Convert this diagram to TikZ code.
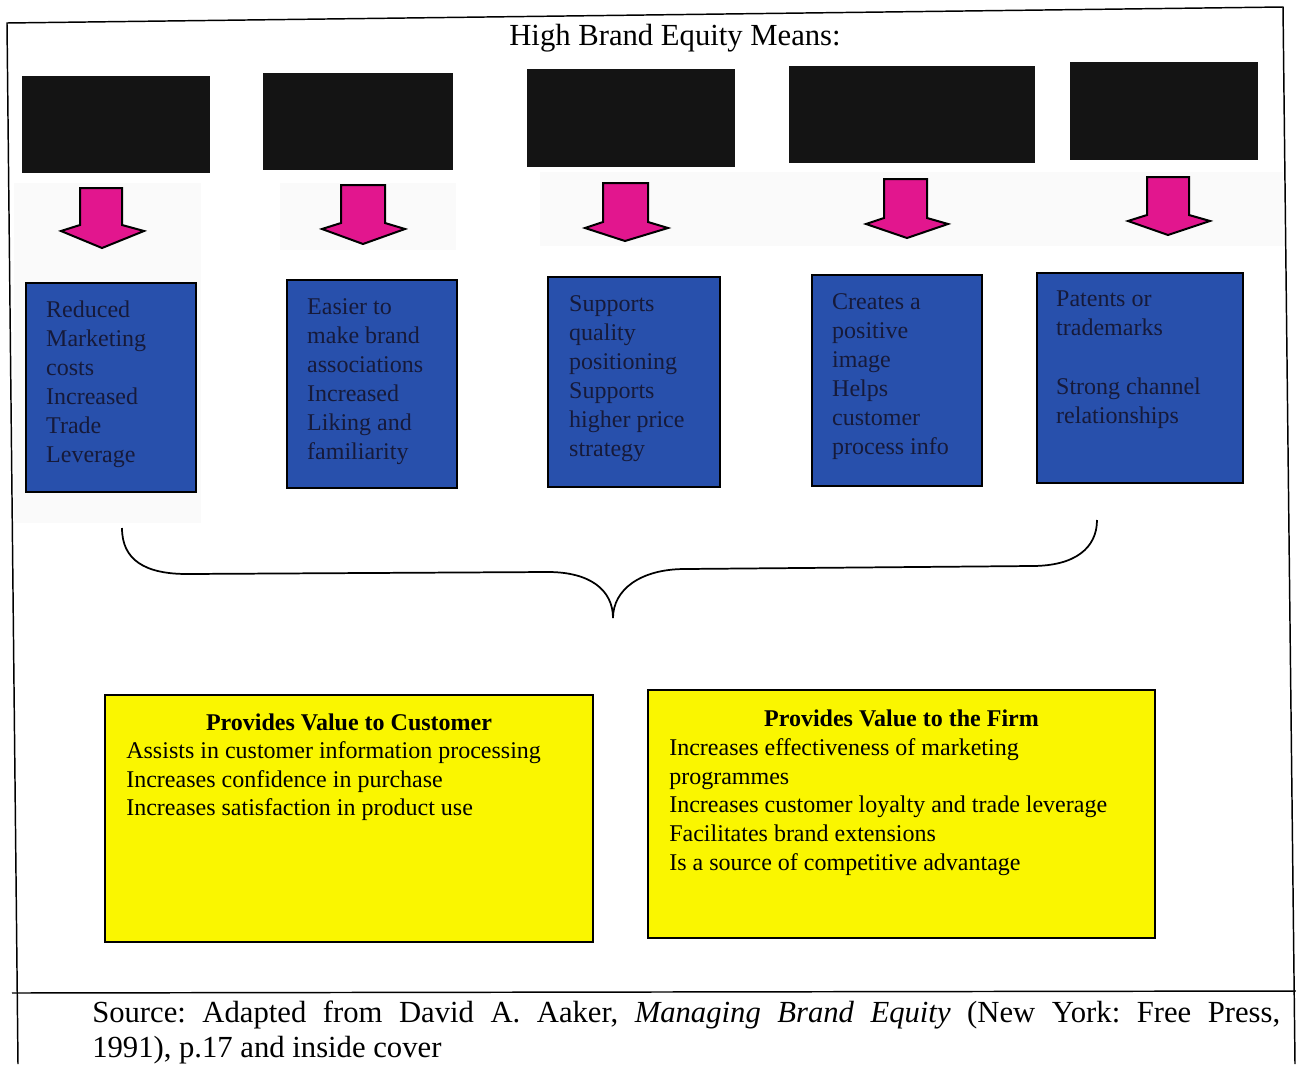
\documentclass[tikz,border=0pt]{standalone}
\usepackage{fontspec}
\setmainfont{Liberation Serif}
\usetikzlibrary{fit}
\definecolor{boxblue}{RGB}{40,80,172}
\definecolor{bluetextc}{RGB}{22,26,58}
\definecolor{arrowpink}{RGB}{226,22,142}
\definecolor{boxyellow}{RGB}{250,246,0}
\definecolor{redactc}{RGB}{20,20,20}
\definecolor{haze}{RGB}{250,250,250}
\frenchspacing
\begin{document}
\begin{tikzpicture}[x=0.75pt,y=-0.75pt,
  frameline/.style={draw=black, line width=1.1pt},
  redact/.style={fill=redactc, draw=none, inner sep=0pt},
  bluebox/.style={fill=boxblue, draw=black, line width=1.6pt, inner sep=0pt},
  bluetext/.style={anchor=north west, inner sep=0pt, align=left, text=bluetextc,
    font=\fontsize{18}{21.75}\selectfont},
  yelbox/.style={fill=boxyellow, draw=black, line width=1.4pt, inner sep=0pt},
  ytitle/.style={anchor=base, inner sep=0pt, font=\fontsize{18}{21.6}\selectfont\bfseries},
  ytext/.style={anchor=north west, inner sep=0pt, align=left,
    font=\fontsize{18}{21.6}\selectfont},
  blockarrow/.style={fill=arrowpink, draw=black, line width=1.5pt, line join=miter},
  brace/.style={draw=black, line width=1.3pt},
  srctext/.style={anchor=base west, inner sep=0pt, font=\fontsize{23}{27}\selectfont}
]
\useasboundingbox (0,0) rectangle (1296,1064);

% faint backgrounds behind the arrows
\fill[haze] (14,183) rectangle (201,523);
\fill[haze] (280,183) rectangle (456,250);
\fill[haze] (540,172) rectangle (1283,246);

% outer frame and source separator
\draw[frameline] (18,1064) -- (7,23) -- (1283,7) -- (1295,1064);
\draw[frameline] (12,993) -- (1296,991);

% heading
\node[anchor=base, inner sep=0pt, font=\fontsize{23}{27}\selectfont] (title) at (675,45) {High Brand Equity Means:};

% redacted top boxes
\node[redact, fit={(22,76) (210,173)}] (k1) {};
\node[redact, fit={(263,73) (453,170)}] (k2) {};
\node[redact, fit={(527,69) (735,167)}] (k3) {};
\node[redact, fit={(789,66) (1035,163)}] (k4) {};
\node[redact, fit={(1070,62) (1258,160)}] (k5) {};

% block arrows: shaft left/right, top, neck, wing left/right, wing y, tip x/y
\foreach \sl/\sr/\st/\nk/\wl/\wr/\wy/\tx/\ty in {
  80/122/188/225/61/144/231/102/248,
  341/385/185/223/322/405/229/363/244,
  603/648/183/222/585/668/228/625/241,
  884/927/179/218/866/948/224/907/238,
  1147/1189/177/215/1128/1210/221/1168/235}
  \draw[blockarrow] (\sl,\st) -- (\sr,\st) -- (\sr,\nk) -- (\wr,\wy) -- (\tx,\ty)
     -- (\wl,\wy) -- (\sl,\nk) -- cycle;

% blue boxes
\node[bluebox, fit={(26,283) (196,492)}] (b1) {};
\node[bluebox, fit={(287,280) (457,488)}] (b2) {};
\node[bluebox, fit={(548,277) (720,487)}] (b3) {};
\node[bluebox, fit={(812,275) (982,486)}] (b4) {};
\node[bluebox, fit={(1037,273) (1243,483)}] (b5) {};

\node[bluetext] (t1) at ([xshift=15.75pt,yshift=-14.25pt]b1.north west)
  {Reduced\\Marketing\\costs\\Increased\\Trade\\Leverage};
\node[bluetext] (t2) at ([xshift=15.75pt,yshift=-14.25pt]b2.north west)
  {Easier to\\make brand\\associations\\Increased\\Liking and\\familiarity};
\node[bluetext] (t3) at ([xshift=16.5pt,yshift=-14.25pt]b3.north west)
  {Supports\\quality\\positioning\\Supports\\higher price\\strategy};
\node[bluetext] (t4) at ([xshift=15.75pt,yshift=-14.25pt]b4.north west)
  {Creates a\\positive\\image\\Helps\\customer\\process info};
\node[bluetext] (t5) at ([xshift=15pt,yshift=-14.25pt]b5.north west)
  {Patents or\\trademarks\\[22pt]Strong channel\\relationships};

% brace gathering the five benefits
\coordinate (brL) at (122,528);
\coordinate (brT) at (613,618);
\coordinate (brR) at (1097,520);
\draw[brace] (brL) .. controls (122,560) and (145,574) .. (187,574)
  -- (548,572) .. controls (590,572) and (613,590) .. (brT)
  .. controls (613,590) and (640,569) .. (685,569)
  -- (1032,566) .. controls (1075,566) and (1097,548) .. (brR);

% yellow value boxes
\node[yelbox, fit={(105,695) (593,942)}] (y1) {};
\node[yelbox, fit={(648,690) (1155,938)}] (y2) {};

\node[ytitle] (y1t) at (349,730) {Provides Value to Customer};
\node[ytext] (y1b) at ([xshift=16.5pt,yshift=-35.25pt]y1.north west)
  {Assists in customer information processing\\Increases confidence in purchase\\Increases satisfaction in product use};

\node[ytitle] (y2t) at (901.5,726) {Provides Value to the Firm};
\node[ytext] (y2b) at ([xshift=16.5pt,yshift=-36.75pt]y2.north west)
  {Increases effectiveness of marketing\\programmes\\Increases customer loyalty and trade leverage\\Facilitates brand extensions\\Is a source of competitive advantage};

% source line
\node[srctext] (src1) at (92,1022)
  {\makebox[891pt][s]{Source: Adapted from David A. Aaker, \textit{Managing Brand Equity} (New York: Free Press,}};
\node[srctext] (src2) at (92,1057) {1991), p.17 and inside cover};
\end{tikzpicture}
\end{document}
